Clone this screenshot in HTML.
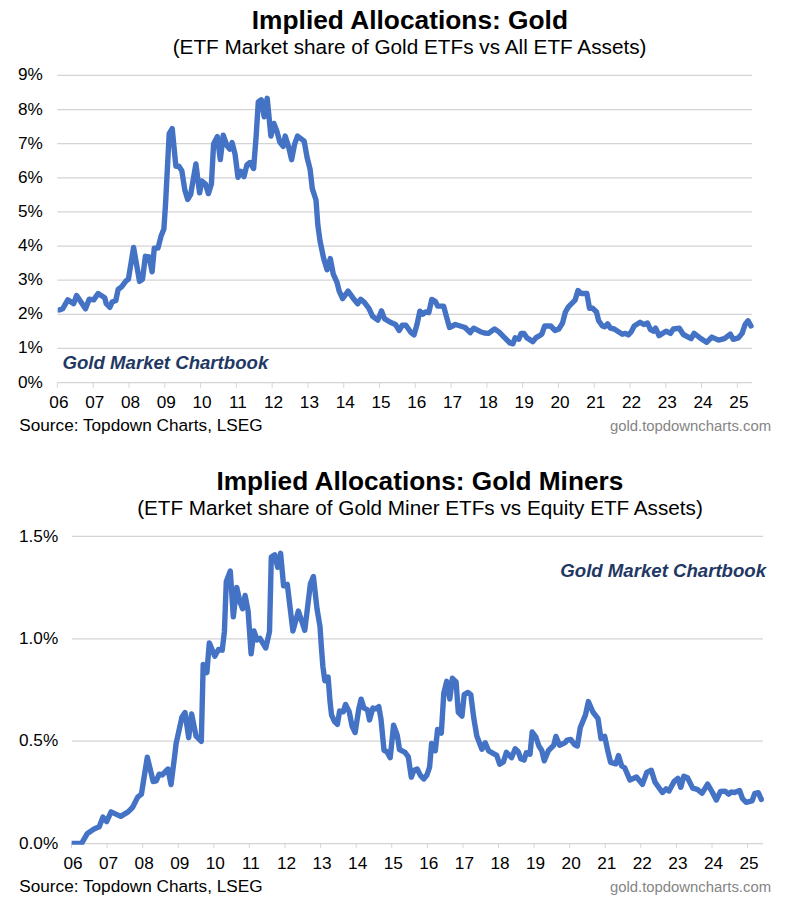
<!DOCTYPE html>
<html><head><meta charset="utf-8"><title>Implied Allocations</title>
<style>html,body{margin:0;padding:0;background:#fff;}body{width:811px;height:900px;overflow:hidden;font-family:"Liberation Sans",sans-serif;}</style>
</head><body>
<svg width="811" height="900" viewBox="0 0 811 900" style="display:block">
<rect width="811" height="900" fill="#ffffff"/>
<g font-family="Liberation Sans, sans-serif" fill="#000">
<line x1="57.3" x2="752.0" y1="382.60" y2="382.60" stroke="#d4d4d4" stroke-width="1.25"/>
<text x="18" y="387.60" font-size="17.2">0%</text>
<line x1="57.3" x2="752.0" y1="348.47" y2="348.47" stroke="#d4d4d4" stroke-width="1.25"/>
<text x="18" y="353.47" font-size="17.2">1%</text>
<line x1="57.3" x2="752.0" y1="314.34" y2="314.34" stroke="#d4d4d4" stroke-width="1.25"/>
<text x="18" y="319.34" font-size="17.2">2%</text>
<line x1="57.3" x2="752.0" y1="280.21" y2="280.21" stroke="#d4d4d4" stroke-width="1.25"/>
<text x="18" y="285.21" font-size="17.2">3%</text>
<line x1="57.3" x2="752.0" y1="246.08" y2="246.08" stroke="#d4d4d4" stroke-width="1.25"/>
<text x="18" y="251.08" font-size="17.2">4%</text>
<line x1="57.3" x2="752.0" y1="211.95" y2="211.95" stroke="#d4d4d4" stroke-width="1.25"/>
<text x="18" y="216.95" font-size="17.2">5%</text>
<line x1="57.3" x2="752.0" y1="177.82" y2="177.82" stroke="#d4d4d4" stroke-width="1.25"/>
<text x="18" y="182.82" font-size="17.2">6%</text>
<line x1="57.3" x2="752.0" y1="143.69" y2="143.69" stroke="#d4d4d4" stroke-width="1.25"/>
<text x="18" y="148.69" font-size="17.2">7%</text>
<line x1="57.3" x2="752.0" y1="109.56" y2="109.56" stroke="#d4d4d4" stroke-width="1.25"/>
<text x="18" y="114.56" font-size="17.2">8%</text>
<line x1="57.3" x2="752.0" y1="75.43" y2="75.43" stroke="#d4d4d4" stroke-width="1.25"/>
<text x="18" y="80.43" font-size="17.2">9%</text>
<line x1="57.40" x2="57.40" y1="382.6" y2="387.8" stroke="#d6d6d6" stroke-width="1.0"/>
<text x="58.90" y="407.5" font-size="17.2" text-anchor="middle">06</text>
<line x1="93.19" x2="93.19" y1="382.6" y2="387.8" stroke="#d6d6d6" stroke-width="1.0"/>
<text x="94.69" y="407.5" font-size="17.2" text-anchor="middle">07</text>
<line x1="128.98" x2="128.98" y1="382.6" y2="387.8" stroke="#d6d6d6" stroke-width="1.0"/>
<text x="130.48" y="407.5" font-size="17.2" text-anchor="middle">08</text>
<line x1="164.77" x2="164.77" y1="382.6" y2="387.8" stroke="#d6d6d6" stroke-width="1.0"/>
<text x="166.27" y="407.5" font-size="17.2" text-anchor="middle">09</text>
<line x1="200.56" x2="200.56" y1="382.6" y2="387.8" stroke="#d6d6d6" stroke-width="1.0"/>
<text x="202.06" y="407.5" font-size="17.2" text-anchor="middle">10</text>
<line x1="236.35" x2="236.35" y1="382.6" y2="387.8" stroke="#d6d6d6" stroke-width="1.0"/>
<text x="237.85" y="407.5" font-size="17.2" text-anchor="middle">11</text>
<line x1="272.14" x2="272.14" y1="382.6" y2="387.8" stroke="#d6d6d6" stroke-width="1.0"/>
<text x="273.64" y="407.5" font-size="17.2" text-anchor="middle">12</text>
<line x1="307.93" x2="307.93" y1="382.6" y2="387.8" stroke="#d6d6d6" stroke-width="1.0"/>
<text x="309.43" y="407.5" font-size="17.2" text-anchor="middle">13</text>
<line x1="343.72" x2="343.72" y1="382.6" y2="387.8" stroke="#d6d6d6" stroke-width="1.0"/>
<text x="345.22" y="407.5" font-size="17.2" text-anchor="middle">14</text>
<line x1="379.51" x2="379.51" y1="382.6" y2="387.8" stroke="#d6d6d6" stroke-width="1.0"/>
<text x="381.01" y="407.5" font-size="17.2" text-anchor="middle">15</text>
<line x1="415.30" x2="415.30" y1="382.6" y2="387.8" stroke="#d6d6d6" stroke-width="1.0"/>
<text x="416.80" y="407.5" font-size="17.2" text-anchor="middle">16</text>
<line x1="451.09" x2="451.09" y1="382.6" y2="387.8" stroke="#d6d6d6" stroke-width="1.0"/>
<text x="452.59" y="407.5" font-size="17.2" text-anchor="middle">17</text>
<line x1="486.88" x2="486.88" y1="382.6" y2="387.8" stroke="#d6d6d6" stroke-width="1.0"/>
<text x="488.38" y="407.5" font-size="17.2" text-anchor="middle">18</text>
<line x1="522.67" x2="522.67" y1="382.6" y2="387.8" stroke="#d6d6d6" stroke-width="1.0"/>
<text x="524.17" y="407.5" font-size="17.2" text-anchor="middle">19</text>
<line x1="558.46" x2="558.46" y1="382.6" y2="387.8" stroke="#d6d6d6" stroke-width="1.0"/>
<text x="559.96" y="407.5" font-size="17.2" text-anchor="middle">20</text>
<line x1="594.25" x2="594.25" y1="382.6" y2="387.8" stroke="#d6d6d6" stroke-width="1.0"/>
<text x="595.75" y="407.5" font-size="17.2" text-anchor="middle">21</text>
<line x1="630.04" x2="630.04" y1="382.6" y2="387.8" stroke="#d6d6d6" stroke-width="1.0"/>
<text x="631.54" y="407.5" font-size="17.2" text-anchor="middle">22</text>
<line x1="665.83" x2="665.83" y1="382.6" y2="387.8" stroke="#d6d6d6" stroke-width="1.0"/>
<text x="667.33" y="407.5" font-size="17.2" text-anchor="middle">23</text>
<line x1="701.62" x2="701.62" y1="382.6" y2="387.8" stroke="#d6d6d6" stroke-width="1.0"/>
<text x="703.12" y="407.5" font-size="17.2" text-anchor="middle">24</text>
<line x1="737.41" x2="737.41" y1="382.6" y2="387.8" stroke="#d6d6d6" stroke-width="1.0"/>
<text x="738.91" y="407.5" font-size="17.2" text-anchor="middle">25</text>
<text transform="translate(251.81,29.00) scale(1.0202,1)" font-size="25.8" font-weight="bold">Implied Allocations: Gold</text>
<text transform="translate(172.66,53.90) scale(1.0758,1)" font-size="19.3">(ETF Market share of Gold ETFs vs All ETF Assets)</text>
<text transform="translate(62.49,368.80) scale(1.0066,1)" font-size="18.5" font-weight="bold" font-style="italic" fill="#1f3864">Gold Market Chartbook</text>
<text transform="translate(19.25,430.50) scale(1.0002,1)" font-size="17.2">Source: Topdown Charts, LSEG</text>
<text transform="translate(609.96,430.60) scale(0.9919,1)" font-size="15.0" fill="#858585">gold.topdowncharts.com</text>
<clipPath id="ct"><rect x="57.7" y="60" width="760" height="330"/></clipPath>
<polyline clip-path="url(#ct)" points="55.0,310.3 59.6,309.9 62.6,308.8 67.8,299.9 73.7,303.6 76.6,295.5 85.5,308.8 89.2,299.2 93.7,299.9 98.1,293.5 104.7,297.7 106.2,303.6 109.9,307.3 112.1,302.1 115.8,300.6 118.1,289.5 121.8,286.6 126.2,280.7 128.4,279.2 133.6,247.4 139.5,281.4 142.5,279.2 145.4,256.3 149.1,257.0 152.1,271.8 154.3,248.1 158.0,248.1 161.0,236.3 163.9,228.9 165.5,204.7 169.2,133.7 172.2,128.5 175.9,166.2 178.9,166.2 181.8,170.7 184.8,189.9 187.7,199.5 190.7,194.3 195.9,164.0 199.6,192.9 201.8,181.0 205.5,184.0 208.4,193.6 211.4,184.0 213.6,144.0 217.3,136.6 220.3,159.6 223.2,135.2 226.9,145.5 229.9,149.2 232.1,142.6 235.1,154.4 238.0,177.3 241.0,171.4 244.0,176.6 246.9,164.8 249.9,162.5 253.6,168.5 256.1,136.8 258.3,102.0 261.3,99.8 264.2,116.8 267.2,98.3 270.9,136.1 273.9,123.5 276.8,130.9 279.8,142.0 283.2,146.4 285.2,136.1 288.7,147.1 291.6,159.7 294.6,144.2 297.5,136.1 304.2,141.2 307.1,157.5 310.1,169.3 312.3,188.6 316.0,200.0 317.8,224.6 320.0,240.9 323.7,258.6 327.1,269.7 330.3,258.6 333.3,274.2 337.0,282.3 339.2,291.2 342.6,298.6 348.1,291.2 354.0,299.3 357.7,303.8 360.7,299.3 364.4,302.4 368.9,308.3 372.6,316.4 377.8,320.1 381.5,310.9 384.4,318.6 390.3,322.3 395.5,324.5 399.2,330.5 402.2,325.3 405.9,325.3 411.1,332.7 414.0,334.9 417.0,324.5 419.9,311.2 422.9,314.2 425.8,312.0 428.8,312.7 431.8,299.4 435.5,301.6 437.7,306.1 443.6,306.1 446.6,317.1 449.5,327.5 455.4,324.5 465.1,327.5 470.2,332.7 473.7,328.2 480.4,331.7 484.5,333.0 488.5,333.4 494.6,328.9 498.9,331.9 504.8,337.9 510.0,343.0 512.9,343.8 515.1,337.9 518.8,339.3 521.1,333.4 524.0,333.4 527.0,337.9 532.9,341.6 535.8,337.9 541.8,334.2 544.7,326.0 550.6,326.0 555.1,330.5 558.8,329.0 562.5,323.1 565.4,312.0 568.4,306.8 575.1,300.1 578.0,290.5 581.0,293.5 586.9,293.5 589.5,308.3 592.8,308.3 596.5,312.0 598.7,320.8 602.4,326.0 604.6,326.8 607.6,323.8 610.5,328.2 614.2,329.0 622.4,334.2 625.3,333.4 628.3,334.9 631.2,331.9 634.2,326.0 640.1,322.3 643.8,324.5 647.5,323.1 650.5,329.7 653.4,331.2 655.6,328.2 659.0,335.6 666.0,331.2 670.4,333.4 673.4,329.0 679.3,328.2 683.3,334.5 691.1,338.6 694.1,333.4 700.0,337.9 706.6,342.3 711.8,337.1 718.5,340.1 724.4,338.6 730.3,334.2 733.3,339.3 738.4,337.9 742.1,333.4 745.1,324.5 748.1,320.8 751.0,326.0" fill="none" stroke="#4472c4" stroke-width="5.4" stroke-linejoin="round" stroke-linecap="round"/>
<line x1="72.0" x2="763.0" y1="843.60" y2="843.60" stroke="#d4d4d4" stroke-width="1.25"/>
<text x="19" y="848.70" font-size="17.2">0.0%</text>
<line x1="72.0" x2="763.0" y1="741.20" y2="741.20" stroke="#d4d4d4" stroke-width="1.25"/>
<text x="19" y="746.30" font-size="17.2">0.5%</text>
<line x1="72.0" x2="763.0" y1="638.80" y2="638.80" stroke="#d4d4d4" stroke-width="1.25"/>
<text x="19" y="643.90" font-size="17.2">1.0%</text>
<line x1="72.0" x2="763.0" y1="536.40" y2="536.40" stroke="#d4d4d4" stroke-width="1.25"/>
<text x="19" y="541.50" font-size="17.2">1.5%</text>
<line x1="71.50" x2="71.50" y1="843.6" y2="848.2" stroke="#d6d6d6" stroke-width="1.0"/>
<text x="73.00" y="868.8" font-size="17.2" text-anchor="middle">06</text>
<line x1="107.08" x2="107.08" y1="843.6" y2="848.2" stroke="#d6d6d6" stroke-width="1.0"/>
<text x="108.58" y="868.8" font-size="17.2" text-anchor="middle">07</text>
<line x1="142.67" x2="142.67" y1="843.6" y2="848.2" stroke="#d6d6d6" stroke-width="1.0"/>
<text x="144.17" y="868.8" font-size="17.2" text-anchor="middle">08</text>
<line x1="178.25" x2="178.25" y1="843.6" y2="848.2" stroke="#d6d6d6" stroke-width="1.0"/>
<text x="179.75" y="868.8" font-size="17.2" text-anchor="middle">09</text>
<line x1="213.84" x2="213.84" y1="843.6" y2="848.2" stroke="#d6d6d6" stroke-width="1.0"/>
<text x="215.34" y="868.8" font-size="17.2" text-anchor="middle">10</text>
<line x1="249.42" x2="249.42" y1="843.6" y2="848.2" stroke="#d6d6d6" stroke-width="1.0"/>
<text x="250.92" y="868.8" font-size="17.2" text-anchor="middle">11</text>
<line x1="285.00" x2="285.00" y1="843.6" y2="848.2" stroke="#d6d6d6" stroke-width="1.0"/>
<text x="286.50" y="868.8" font-size="17.2" text-anchor="middle">12</text>
<line x1="320.59" x2="320.59" y1="843.6" y2="848.2" stroke="#d6d6d6" stroke-width="1.0"/>
<text x="322.09" y="868.8" font-size="17.2" text-anchor="middle">13</text>
<line x1="356.17" x2="356.17" y1="843.6" y2="848.2" stroke="#d6d6d6" stroke-width="1.0"/>
<text x="357.67" y="868.8" font-size="17.2" text-anchor="middle">14</text>
<line x1="391.76" x2="391.76" y1="843.6" y2="848.2" stroke="#d6d6d6" stroke-width="1.0"/>
<text x="393.26" y="868.8" font-size="17.2" text-anchor="middle">15</text>
<line x1="427.34" x2="427.34" y1="843.6" y2="848.2" stroke="#d6d6d6" stroke-width="1.0"/>
<text x="428.84" y="868.8" font-size="17.2" text-anchor="middle">16</text>
<line x1="462.92" x2="462.92" y1="843.6" y2="848.2" stroke="#d6d6d6" stroke-width="1.0"/>
<text x="464.42" y="868.8" font-size="17.2" text-anchor="middle">17</text>
<line x1="498.51" x2="498.51" y1="843.6" y2="848.2" stroke="#d6d6d6" stroke-width="1.0"/>
<text x="500.01" y="868.8" font-size="17.2" text-anchor="middle">18</text>
<line x1="534.09" x2="534.09" y1="843.6" y2="848.2" stroke="#d6d6d6" stroke-width="1.0"/>
<text x="535.59" y="868.8" font-size="17.2" text-anchor="middle">19</text>
<line x1="569.68" x2="569.68" y1="843.6" y2="848.2" stroke="#d6d6d6" stroke-width="1.0"/>
<text x="571.18" y="868.8" font-size="17.2" text-anchor="middle">20</text>
<line x1="605.26" x2="605.26" y1="843.6" y2="848.2" stroke="#d6d6d6" stroke-width="1.0"/>
<text x="606.76" y="868.8" font-size="17.2" text-anchor="middle">21</text>
<line x1="640.84" x2="640.84" y1="843.6" y2="848.2" stroke="#d6d6d6" stroke-width="1.0"/>
<text x="642.34" y="868.8" font-size="17.2" text-anchor="middle">22</text>
<line x1="676.43" x2="676.43" y1="843.6" y2="848.2" stroke="#d6d6d6" stroke-width="1.0"/>
<text x="677.93" y="868.8" font-size="17.2" text-anchor="middle">23</text>
<line x1="712.01" x2="712.01" y1="843.6" y2="848.2" stroke="#d6d6d6" stroke-width="1.0"/>
<text x="713.51" y="868.8" font-size="17.2" text-anchor="middle">24</text>
<line x1="747.60" x2="747.60" y1="843.6" y2="848.2" stroke="#d6d6d6" stroke-width="1.0"/>
<text x="749.10" y="868.8" font-size="17.2" text-anchor="middle">25</text>
<text transform="translate(216.42,490.20) scale(1.0166,1)" font-size="25.8" font-weight="bold">Implied Allocations: Gold Miners</text>
<text transform="translate(137.16,514.90) scale(1.0727,1)" font-size="19.3">(ETF Market share of Gold Miner ETFs vs Equity ETF Assets)</text>
<text transform="translate(560.29,576.90) scale(1.0071,1)" font-size="18.5" font-weight="bold" font-style="italic" fill="#1f3864">Gold Market Chartbook</text>
<text transform="translate(19.25,891.60) scale(1.0002,1)" font-size="17.2">Source: Topdown Charts, LSEG</text>
<text transform="translate(609.96,891.90) scale(0.9919,1)" font-size="15.0" fill="#858585">gold.topdowncharts.com</text>
<clipPath id="cb"><rect x="71.6" y="450" width="750" height="394.7"/></clipPath>
<polyline clip-path="url(#cb)" points="69.0,843.4 81.6,843.4 87.4,833.4 94.0,829.0 99.2,826.7 102.9,817.1 106.6,821.6 111.1,811.9 120.7,816.4 128.1,811.9 132.5,807.5 137.7,797.1 141.4,794.2 147.3,757.2 153.2,781.6 156.2,780.9 159.1,774.2 162.1,775.0 168.0,769.0 171.0,784.6 174.7,755.7 176.1,743.6 182.0,716.9 185.0,712.5 188.7,737.7 191.6,714.0 196.1,736.2 201.3,741.4 203.2,664.4 206.9,672.6 209.3,642.9 214.8,656.2 218.5,649.5 222.2,650.2 224.4,631.7 226.3,581.4 230.3,571.1 233.3,616.9 236.7,587.4 240.0,602.1 242.6,608.8 245.1,595.5 248.1,611.0 251.1,653.9 254.0,631.0 257.0,639.9 259.9,638.4 265.8,648.0 269.5,631.7 271.3,557.0 274.7,554.8 277.7,567.4 280.6,553.3 283.6,585.9 287.3,584.4 292.9,631.0 298.4,611.0 304.8,630.3 310.4,583.7 313.4,576.6 317.0,608.8 320.0,626.6 321.5,648.8 322.9,666.5 324.8,680.7 328.1,677.0 330.0,701.4 331.5,714.8 334.4,721.4 337.4,724.4 339.6,711.1 343.3,711.8 345.5,704.4 349.2,711.8 352.2,726.6 355.1,732.5 358.8,708.8 361.1,699.2 364.0,708.1 367.4,709.6 369.5,719.9 372.9,708.1 375.8,708.8 378.8,706.6 381.0,719.2 384.0,750.3 386.9,751.7 390.2,757.7 393.6,725.1 397.3,735.5 399.5,749.5 405.0,752.3 408.3,756.8 411.3,777.2 413.8,770.5 417.2,769.0 420.4,775.4 423.7,779.0 426.9,775.0 429.6,767.1 431.6,743.4 435.3,750.8 437.6,729.4 441.3,733.1 443.8,693.1 446.7,681.3 449.8,699.0 452.4,678.3 456.1,682.0 458.3,712.4 462.0,716.1 464.2,694.6 467.9,692.4 470.8,694.6 473.8,718.3 476.8,736.0 481.9,749.3 485.2,742.7 488.6,750.8 496.7,755.3 499.7,764.1 503.4,761.9 506.4,752.3 511.5,757.7 515.2,748.8 518.1,751.4 520.8,758.8 524.1,760.1 526.3,752.7 530.0,754.2 532.2,732.0 535.9,737.1 538.9,746.0 541.8,750.5 544.3,760.8 548.5,750.5 553.7,745.3 555.9,736.4 559.6,745.3 565.5,742.3 567.0,740.1 570.7,739.4 574.4,744.5 577.3,746.0 580.3,727.5 585.5,714.9 588.4,701.6 592.9,712.0 598.0,718.7 601.0,738.6 604.7,736.4 607.7,750.5 610.6,762.3 615.8,763.8 618.5,755.5 621.7,766.0 624.7,767.8 629.9,780.0 636.5,777.0 642.4,784.4 646.8,772.5 651.3,770.3 655.0,782.1 662.4,792.5 666.1,788.8 669.0,791.0 674.2,781.4 677.9,778.4 680.8,787.3 683.8,776.2 687.5,777.7 692.7,788.1 697.2,789.3 702.0,793.3 707.6,784.1 712.2,792.0 716.3,800.0 720.5,791.5 725.0,791.1 728.7,794.1 731.4,792.0 734.6,792.6 739.6,790.5 742.5,798.6 746.2,802.3 752.1,800.8 754.8,793.4 758.4,792.7 761.3,799.4" fill="none" stroke="#4472c4" stroke-width="5.4" stroke-linejoin="round" stroke-linecap="round"/>
</g></svg>
</body></html>
